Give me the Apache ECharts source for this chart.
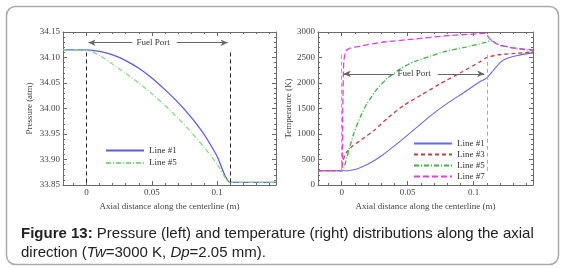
<!DOCTYPE html>
<html><head><meta charset="utf-8">
<script src="https://cdn.jsdelivr.net/npm/echarts@6/dist/echarts.min.js"></script>
<style>html,body{margin:0;padding:0;background:#fff}#c{width:562px;height:268px}</style>
</head><body><div id="c"></div>
<script>
// ---- data ----
const xTicks = [0, 0.05, 0.1];
const pTicks = [33.85, 33.90, 33.95, 34.00, 34.05, 34.10, 34.15];
const tTicks = [0, 500, 1000, 1500, 2000, 2500, 3000];
const fuelPort = [0, 0.11];

// Pressure (atm) vs axial distance (m)
const pLine1X = [-0.018, 0, 0.01, 0.02, 0.03, 0.04, 0.05, 0.06, 0.07, 0.08, 0.09, 0.1, 0.11, 0.145];
const pLine1Y = [34.115, 34.115, 34.112, 34.105, 34.094, 34.079, 34.060, 34.037, 34.012, 33.983, 33.949, 33.906, 33.855, 33.855];
const pLine5X = [-0.018, 0, 0.01, 0.02, 0.03, 0.04, 0.05, 0.06, 0.07, 0.08, 0.09, 0.1, 0.11, 0.145];
const pLine5Y = [34.115, 34.115, 34.104, 34.087, 34.069, 34.050, 34.029, 34.006, 33.981, 33.954, 33.924, 33.891, 33.855, 33.855];

// Temperature (K) vs axial distance (m)
const tLine1X = [-0.018, 0, 0.006, 0.012, 0.02, 0.03, 0.042, 0.055, 0.0675, 0.08, 0.093, 0.105, 0.11, 0.115, 0.12, 0.125, 0.133, 0.145];
const tLine1Y = [280, 280, 285, 320, 410, 570, 810, 1090, 1360, 1600, 1820, 2030, 2100, 2250, 2400, 2480, 2540, 2590];
const tLine3X = [-0.018, 0, 0.0006, 0.003, 0.008, 0.015, 0.025, 0.035, 0.047, 0.06, 0.075, 0.09, 0.105, 0.11, 0.118, 0.131, 0.145];
const tLine3Y = [280, 280, 430, 620, 760, 890, 1080, 1320, 1560, 1760, 1990, 2200, 2420, 2500, 2550, 2580, 2610];
const tLine5X = [-0.018, 0, 0.004, 0.009, 0.014, 0.019, 0.027, 0.035, 0.045, 0.055, 0.0675, 0.08, 0.093, 0.108, 0.113, 0.12, 0.131, 0.145];
const tLine5Y = [280, 280, 557, 1000, 1330, 1590, 1890, 2100, 2290, 2420, 2530, 2630, 2700, 2790, 2830, 2740, 2680, 2630];
const tLine7X = [-0.018, 0, 0.0008, 0.0015, 0.003, 0.006, 0.015, 0.03, 0.055, 0.08, 0.1, 0.109, 0.112, 0.118, 0.131, 0.145];
const tLine7Y = [280, 280, 1500, 2400, 2620, 2680, 2730, 2797, 2862, 2928, 2960, 2975, 2870, 2760, 2686, 2650];

const pair = (xs, ys) => xs.map((x, i) => [x, ys[i]]);

// ---- styling ----
const SERIF = '"Liberation Serif","DejaVu Serif",serif';
const AX = '#6a6a6a';
const LBL = '#444';
const FS = 9;
const minorX = [];
for (let k = -1; k <= 14; k++) minorX.push(+(k * 0.01).toFixed(2));

function xAxes(gi) {
  const base = {type: 'value', gridIndex: gi, min: -0.018, max: 0.145, splitLine: {show: false}};
  return [
    Object.assign({}, base, {
      position: 'bottom',
      axisLine: {show: true, onZero: false, lineStyle: {color: AX}},
      axisTick: {show: true, inside: true, length: 4, customValues: xTicks, lineStyle: {color: AX}},
      axisLabel: {show: true, customValues: xTicks, margin: 3, color: LBL, fontFamily: SERIF, fontSize: FS,
        formatter: v => String(+v.toFixed(3))},
      name: 'Axial distance along the centerline (m)', nameLocation: 'middle', nameGap: 9,
      nameTextStyle: {color: LBL, fontFamily: SERIF, fontSize: FS, verticalAlign: 'top'}
    }),
    Object.assign({}, base, {
      position: 'bottom', axisLine: {show: false, onZero: false}, axisLabel: {show: false},
      axisTick: {show: true, inside: true, length: 2, customValues: minorX, lineStyle: {color: AX}}
    }),
    Object.assign({}, base, {
      position: 'top', axisLine: {show: true, onZero: false, lineStyle: {color: AX}}, axisLabel: {show: false},
      axisTick: {show: true, inside: true, length: 4, customValues: xTicks, lineStyle: {color: AX}}
    }),
    Object.assign({}, base, {
      position: 'top', axisLine: {show: false, onZero: false}, axisLabel: {show: false},
      axisTick: {show: true, inside: true, length: 2, customValues: minorX, lineStyle: {color: AX}}
    })
  ];
}
function yAxes(gi, ticks, name, fmt, gap) {
  const step = ticks[1] - ticks[0];
  const base = {type: 'value', gridIndex: gi, min: ticks[0], max: ticks[ticks.length - 1], interval: step,
    splitLine: {show: false},
    axisTick: {show: true, inside: true, length: 4, lineStyle: {color: AX}},
    minorTick: {show: true, splitNumber: 5, length: 2, lineStyle: {color: AX}},
    axisLine: {show: true, onZero: false, lineStyle: {color: AX}}};
  return [
    Object.assign({}, base, {
      position: 'left',
      axisLabel: {show: true, margin: 3, color: LBL, fontFamily: SERIF, fontSize: FS, formatter: fmt},
      name: name, nameLocation: 'middle', nameGap: gap,
      nameTextStyle: {color: LBL, fontFamily: SERIF, fontSize: FS}
    }),
    Object.assign({}, base, {position: 'right', axisLabel: {show: false}})
  ];
}

function line(name, data, xi, yi, color, type, width, extra) {
  return Object.assign({
    type: 'line', name: name, data: data, xAxisIndex: xi, yAxisIndex: yi,
    showSymbol: false, symbol: 'none', smooth: 0.2,
    lineStyle: {color: color, width: width, type: type}, itemStyle: {color: color},
    z: 3
  }, extra || {});
}

function guides(arrowY, segs, dashColor, labelX) {
  return {
    markLine: {
      silent: true, animation: false,
      data: [
        [{coord: [fuelPort[0], 'min'], symbol: 'none', lineStyle: {color: dashColor, type: [4, 3], width: 1}},
         {coord: [fuelPort[0], 'max'], symbol: 'none'}],
        [{coord: [fuelPort[1], 'min'], symbol: 'none', lineStyle: {color: dashColor, type: [4, 3], width: 1}},
         {coord: [fuelPort[1], 'max'], symbol: 'none'}],
        [{coord: [segs[1], arrowY], symbol: 'none', lineStyle: {color: '#666', type: 'solid', width: 1}},
         {coord: [segs[0], arrowY], symbol: 'arrow', symbolSize: [5, 7]}],
        [{coord: [segs[2], arrowY], symbol: 'none', lineStyle: {color: '#666', type: 'solid', width: 1}},
         {coord: [segs[3], arrowY], symbol: 'arrow', symbolSize: [5, 7]}]
      ],
      label: {show: false}, itemStyle: {color: '#111'}
    },
    markPoint: {
      silent: true, animation: false, symbol: 'circle', symbolSize: 0,
      data: [{coord: [labelX, arrowY]}],
      label: {show: true, position: 'inside', formatter: 'Fuel Port', color: '#333', fontFamily: SERIF, fontSize: FS}
    }
  };
}

const chart = echarts.init(document.getElementById('c'), null, {renderer: 'canvas'});
const lxa = xAxes(0), rxa = xAxes(1);
const lya = yAxes(0, pTicks, 'Pressure (atm)', v => v.toFixed(2), 29);
const rya = yAxes(1, tTicks, 'Temperature (K)', v => String(Math.round(v)), 24);

const legendCommon = {
  orient: 'vertical', itemWidth: 38, itemHeight: 8, selectedMode: false,
  itemStyle: {opacity: 0, borderWidth: 0},
  formatter: n => n.split('|')[1],
  textStyle: {color: '#333', fontFamily: SERIF, fontSize: 9, lineHeight: 9}
};

chart.setOption({
  animation: false,
  backgroundColor: '#fff',
  title: {
    left: 16, top: 219,
    text: '{b|Figure 13:} Pressure (left) and temperature (right) distributions along the axial\ndirection ({i|Tw}=3000 K, {i|Dp}=2.05 mm).',
    textStyle: {
      fontFamily: '"Liberation Sans",Arial,sans-serif', fontSize: 15, fontWeight: 'normal', color: '#222', lineHeight: 19,
      rich: {
        b: {fontFamily: '"Liberation Sans",Arial,sans-serif', fontSize: 15, fontWeight: 'bold', color: '#222', lineHeight: 19},
        i: {fontFamily: '"Liberation Sans",Arial,sans-serif', fontSize: 15, fontStyle: 'italic', color: '#222', lineHeight: 19}
      }
    }
  },
  graphic: [{
    type: 'rect', left: 4, top: 4, silent: true, z: -10,
    shape: {width: 552, height: 258, r: 9},
    style: {fill: 'none', stroke: '#aaa', lineWidth: 1.5}
  }],
  grid: [
    {left: 63, right: 286, top: 32, bottom: 83},
    {left: 318, right: 29, top: 32, bottom: 83}
  ],
  xAxis: lxa.concat(rxa),
  yAxis: lya.concat(rya),
  legend: [
    Object.assign({}, legendCommon, {left: 100, top: 141, itemGap: 3.5, data: ['p|Line #1', 'p|Line #5']}),
    Object.assign({}, legendCommon, {left: 408, top: 134, itemGap: 2,
      data: ['t|Line #1', 't|Line #3', 't|Line #5', 't|Line #7']})
  ],
  series: [
    line('p|Line #1', pair(pLine1X, pLine1Y), 0, 0, '#5b5bdc', 'solid', 1.3,
      guides(34.129, [0.0015, 0.035, 0.069, 0.108], '#222', 0.051)),
    line('p|Line #5', pair(pLine5X, pLine5Y), 0, 0, '#86d486', [5, 2, 1, 2], 1.2),
    line('t|Line #1', pair(tLine1X, tLine1Y), 4, 2, '#6a6ad8', 'solid', 1.1,
      guides(2180, [0.0015, 0.0397, 0.0728, 0.108], '#aaa', 0.0548)),
    line('t|Line #3', pair(tLine3X, tLine3Y), 4, 2, '#c04040', [4, 3], 1.3),
    line('t|Line #5', pair(tLine5X, tLine5Y), 4, 2, '#44b044', [5, 2, 1, 2], 1.3),
    line('t|Line #7', pair(tLine7X, tLine7Y), 4, 2, '#e040e0', [6, 3], 1.3)
  ]
});
</script></body></html>
